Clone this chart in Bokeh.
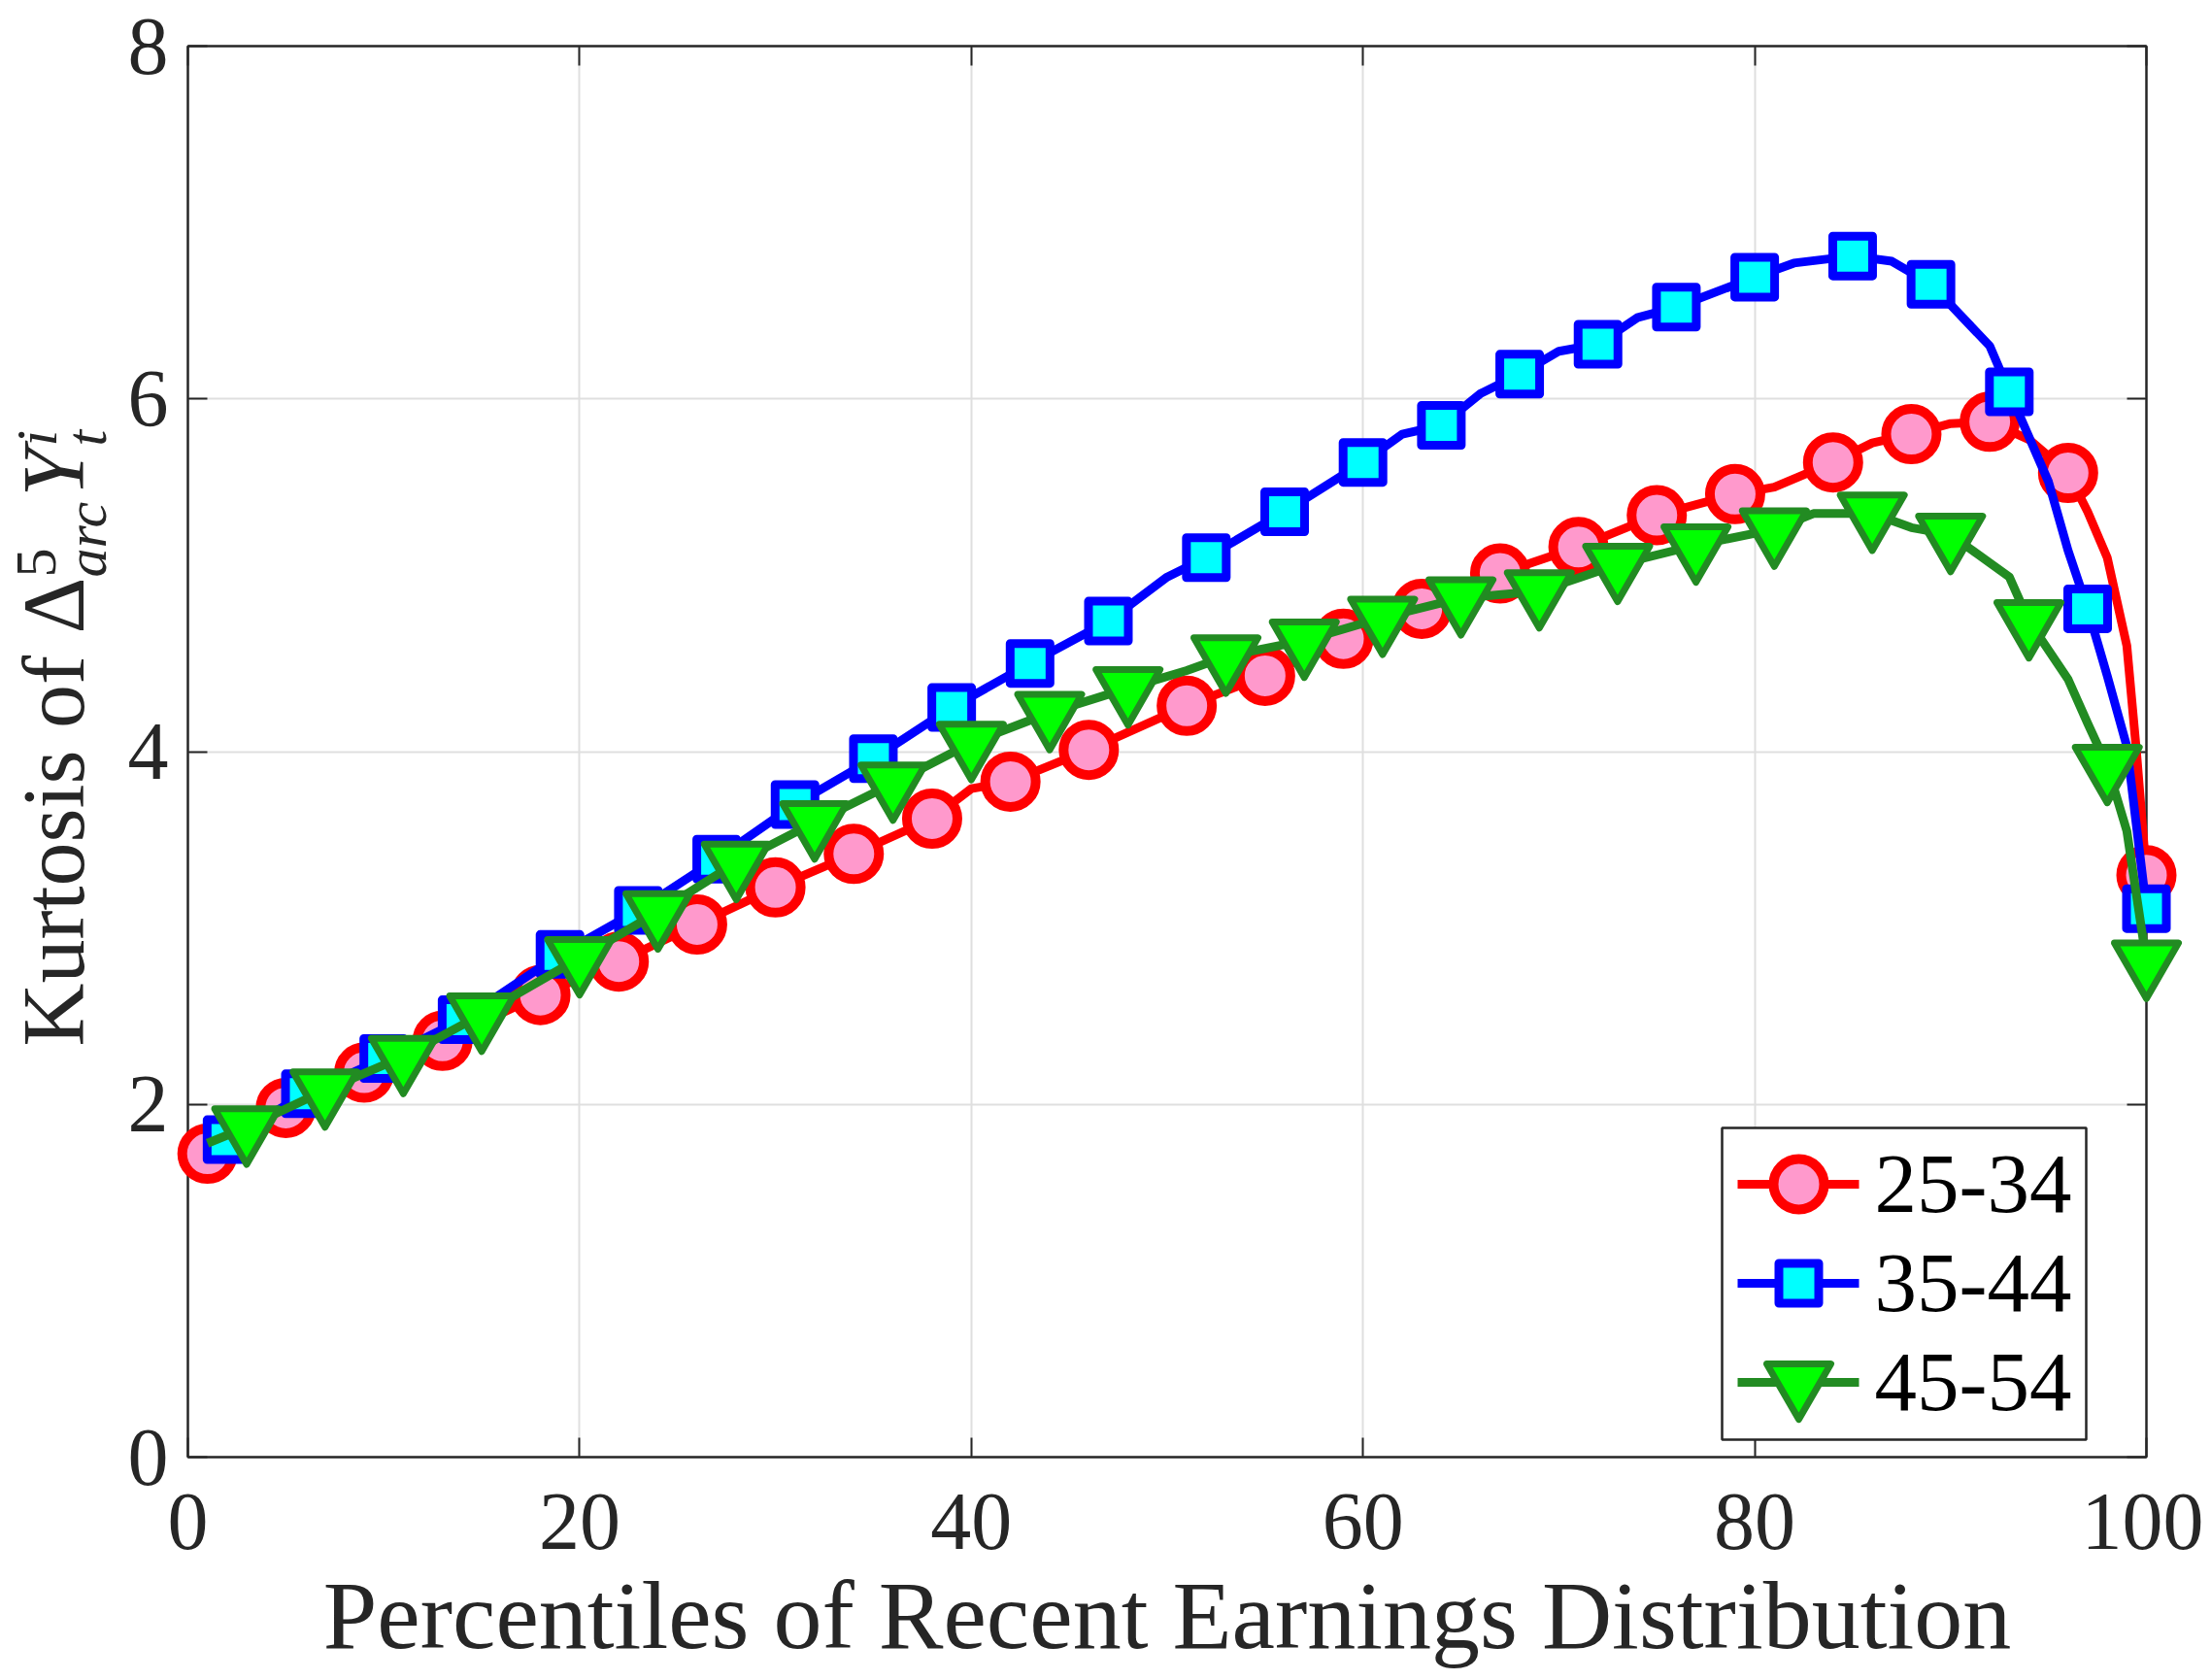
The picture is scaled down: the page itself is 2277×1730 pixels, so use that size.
import numpy as np
from bokeh.plotting import figure
from bokeh.models import Range1d, LinearAxis, FixedTicker
from bokeh.core.properties import value
from bokeh.embed import file_html
from bokeh.resources import INLINE

# ---------------- data ----------------
x_ticks = [0, 20, 40, 60, 80, 100]
y_ticks = [0, 2, 4, 6, 8]
series_labels = ["25-34", "35-44", "45-54"]

# age 25-34 (markers) and extra line vertices read between markers
x_25_34 = [1, 5, 9, 13, 18, 22, 26, 30, 34, 38, 42, 46, 51, 55, 59, 63, 67, 71, 75, 79, 84, 88, 92, 96, 100]
y_25_34 = [1.72, 1.98, 2.18, 2.36, 2.62, 2.81, 3.02, 3.23, 3.42, 3.62, 3.83, 4.01, 4.26, 4.43, 4.64,
           4.81, 5.01, 5.16, 5.34, 5.46, 5.64, 5.80, 5.87, 5.58, 3.30]
x_25_34_between = [40, 81, 86, 90, 94, 97, 98, 99, 99.5]
y_25_34_between = [3.79, 5.50, 5.75, 5.86, 5.77, 5.36, 5.10, 4.60, 3.99]

# age 35-44
x_35_44 = [2, 6, 10, 14, 19, 23, 27, 31, 35, 39, 43, 47, 52, 56, 60, 64, 68, 72, 76, 80, 85, 89, 93, 97, 100]
y_35_44 = [1.80, 2.06, 2.26, 2.48, 2.85, 3.10, 3.39, 3.70, 3.96, 4.25, 4.50, 4.74, 5.10, 5.36, 5.64,
           5.85, 6.14, 6.31, 6.52, 6.69, 6.81, 6.65, 6.04, 4.81, 3.11]
x_35_44_between = [50, 62, 66, 70, 74, 82, 87, 92, 95, 96, 98, 99]
y_35_44_between = [4.99, 5.80, 6.03, 6.27, 6.46, 6.77, 6.78, 6.30, 5.53, 5.14, 4.43, 4.03]

# age 45-54
x_45_54 = [3, 7, 11, 15, 20, 24, 28, 32, 36, 40, 44, 48, 53, 57, 61, 65, 69, 73, 77, 81, 86, 90, 94, 98, 100]
y_45_54 = [1.87, 2.08, 2.27, 2.51, 2.83, 3.09, 3.37, 3.60, 3.82, 4.05, 4.22, 4.36, 4.54, 4.63, 4.76,
           4.87, 4.91, 5.06, 5.17, 5.26, 5.35, 5.23, 4.74, 3.92, 2.81]
x_45_54_between = [1, 51, 83, 88, 93, 96, 97, 99]
y_45_54_between = [1.78, 4.46, 5.35, 5.27, 4.99, 4.41, 4.16, 3.55]

x_label = "Percentiles of Recent Earnings Distribution"


def merged(xm, ym, xe, ye):
    pts = sorted(zip(list(xm) + list(xe), list(ym) + list(ye)))
    return [a for a, _ in pts], [b for _, b in pts]


AX = "#262626"
FONT = "Liberation Serif"
BASE_SHIFT = 0.36   # text glyph 'alphabetic' anchor sits this many em below the glyph baseline

# layout (page pixels)
FR_L, FR_T, FR_W, FR_H = 193, 47, 2017, 1453
X0, X1, Y0, Y1 = 0, 100, 0, 8
W, H = 2269, 1722


def px_x(px):
    return X0 + (px - FR_L) * (X1 - X0) / FR_W


def px_y(py):
    return Y0 + (FR_T + FR_H - py) * (Y1 - Y0) / FR_H


p = figure(width=W, height=H,
           x_range=Range1d(X0, X1), y_range=Range1d(Y0, Y1),
           output_backend="svg", toolbar_location=None,
           min_border_left=FR_L, min_border_right=W - FR_L - FR_W,
           min_border_top=FR_T, min_border_bottom=H - FR_T - FR_H,
           background_fill_color="white", border_fill_color="white")

p.outline_line_color = AX
p.outline_line_width = 2

for g in (p.xgrid, p.ygrid):
    g.grid_line_color = "#DFDFDF"
    g.grid_line_width = 2
p.xgrid.ticker = FixedTicker(ticks=x_ticks)
p.ygrid.ticker = FixedTicker(ticks=y_ticks)


def style_axis(ax, ticks, show_labels):
    ax.ticker = FixedTicker(ticks=ticks)
    ax.axis_line_color = AX
    ax.axis_line_width = 2
    ax.major_tick_line_color = AX
    ax.major_tick_line_width = 2
    ax.major_tick_in = 20
    ax.major_tick_out = 0
    ax.minor_tick_line_color = None
    ax.major_label_text_font = FONT
    ax.major_label_text_font_size = "84px"
    ax.major_label_text_color = AX
    if not show_labels:
        ax.major_label_overrides = {t: "" for t in ticks}


style_axis(p.xaxis[0], x_ticks, True)
style_axis(p.yaxis[0], y_ticks, True)
p.xaxis[0].major_label_standoff = 38
p.yaxis[0].major_label_standoff = 20
p.xaxis[0].axis_label = x_label
p.xaxis[0].axis_label_text_font = FONT
p.xaxis[0].axis_label_text_font_size = "100px"
p.xaxis[0].axis_label_text_font_style = "normal"
p.xaxis[0].axis_label_text_color = AX
p.xaxis[0].axis_label_standoff = 10

top_ax = LinearAxis()
style_axis(top_ax, x_ticks, False)
p.add_layout(top_ax, "above")
right_ax = LinearAxis()
style_axis(right_ax, y_ticks, False)
p.add_layout(right_ax, "right")

specs = [
    (x_25_34, y_25_34, x_25_34_between, y_25_34_between, "#FF0000", "#FF99CC", "circle", 52, 10),
    (x_35_44, y_35_44, x_35_44_between, y_35_44_between, "#0000FF", "#00FFFF", "square", 41, 9),
    (x_45_54, y_45_54, x_45_54_between, y_45_54_between, "#228B22", "#00FF00", "inverted_triangle", 66, 7),
]
LINE_W = 9

for (xm, ym, xe, ye, lc, fc, mk, sz, lw) in specs:
    lx, ly = merged(xm, ym, xe, ye)
    p.line(lx, ly, line_color=lc, line_width=LINE_W, line_join="round", level="overlay")
    p.scatter(xm, ym, marker=mk, size=sz, fill_color=fc, line_color=lc,
              line_width=lw, line_join="round", level="overlay")

# ---------------- legend (drawn in the plot, lower right) ----------------
LEG_L, LEG_T, LEG_R, LEG_B = 1773, 1161, 2148, 1482
ROW_CY = [1219, 1321, 1423]
SAMPLE_X0, SAMPLE_X1, SAMPLE_XM, TEXT_X = 1789, 1914, 1852, 1930
LEG_FS = 87
p.quad(left=[px_x(LEG_L)], right=[px_x(LEG_R)], top=[px_y(LEG_T)], bottom=[px_y(LEG_B)],
       fill_color="white", line_color=AX, line_width=2.5, level="overlay")
for (xm, ym, xe, ye, lc, fc, mk, sz, lw), lab, cy in zip(specs, series_labels, ROW_CY):
    p.line([px_x(SAMPLE_X0), px_x(SAMPLE_X1)], [px_y(cy), px_y(cy)], line_color=lc,
           line_width=LINE_W, level="overlay")
    p.scatter([px_x(SAMPLE_XM)], [px_y(cy)], marker=mk, size=sz, fill_color=fc, line_color=lc,
              line_width=lw, line_join="round", level="overlay")
    p.text([px_x(TEXT_X)], [px_y(cy + 31 - BASE_SHIFT * LEG_FS)], text=[lab], text_align="left",
           text_baseline="alphabetic", text_font=value(FONT), text_font_size=value(f"{LEG_FS}px"),
           text_color="black", level="overlay")

# ---------------- y-axis label: Kurtosis of Δ^5_arc Y^i_t ----------------
# (text, baseline x, start y, font px, style)
ylabel_pieces = [
    ("Kurtosis of \u0394", 87, 1077, 90, "normal"),
    ("5", 59, 594, 60, "normal"),
    ("arc", 110, 594, 60, "italic"),
    ("Y", 87, 511, 90, "italic"),
    ("i", 59, 459, 60, "italic"),
    ("t", 110, 459, 60, "italic"),
]
for txt, bx, by, fs, style in ylabel_pieces:
    p.text([px_x(bx - BASE_SHIFT * fs)], [px_y(by)], text=[txt], angle=np.pi / 2, text_align="left",
           text_baseline="alphabetic", text_font=value(FONT), text_font_size=value(f"{fs}px"),
           text_font_style=style, text_color=AX, level="overlay")

open("out.html", "w").write(file_html(p, INLINE))
